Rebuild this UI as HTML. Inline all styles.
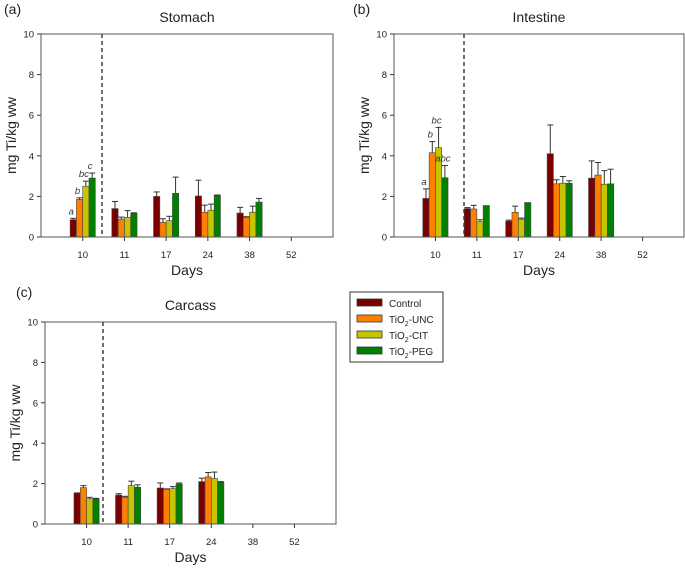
<!DOCTYPE html>
<html><head><meta charset="utf-8"><style>
body{margin:0;background:#fff;width:685px;height:566px;overflow:hidden}
svg{font-family:"Liberation Sans",sans-serif}
</style></head><body>
<svg id="c" width="685" height="566" xmlns="http://www.w3.org/2000/svg"></svg>
<script>
const days=["10","11","17","24","38","52"];
const yTicks=[0,2,4,6,8,10];
const seriesNames=["Control","TiO2-UNC","TiO2-CIT","TiO2-PEG"];
const colors=["#7a0000","#ff8000","#c5c500","#008000"];
const stomachVals=[[0.85,1.85,2.5,2.9],[1.4,0.88,0.97,1.17],[2.0,0.72,0.8,2.15],[2.02,1.22,1.32,2.05],[1.18,0.97,1.22,1.72]];
const stomachErr=[[0.07,0.08,0.25,0.25],[0.35,0.1,0.33,0.02],[0.22,0.18,0.22,0.8],[0.78,0.35,0.3,0.02],[0.28,0.03,0.3,0.18]];
const intestineVals=[[1.9,4.15,4.4,2.92],[1.4,1.38,0.75,1.55],[0.78,1.22,0.88,1.7],[4.1,2.62,2.65,2.65],[2.9,3.05,2.6,2.62]];
const intestineErr=[[0.47,0.55,1.0,0.6],[0.05,0.18,0.1,0],[0.05,0.3,0.05,0],[1.42,0.2,0.33,0.12],[0.85,0.62,0.67,0.72]];
const carcassVals=[[1.52,1.8,1.25,1.25],[1.43,1.32,1.9,1.82],[1.78,1.72,1.75,1.98],[2.1,2.33,2.25,2.07]];
const carcassErr=[[0.02,0.1,0.07,0.02],[0.07,0.05,0.22,0.12],[0.25,0.02,0.1,0.05],[0.17,0.22,0.32,0.03]];
const stomachLetters=["a","b","bc","c"];
const intestineLetters=["a","b","bc","abc"];
const NS="http://www.w3.org/2000/svg";
const svg=document.getElementById('c');
function mk(tag,attrs,parent,text){const e=document.createElementNS(NS,tag);for(const k in attrs)e.setAttribute(k,attrs[k]);if(text!==undefined)e.textContent=text;(parent||svg).appendChild(e);return e;}
function panel(p){
  const g=mk('g',{});
  
  
  const L=p.x0,R=p.x1,T=p.y0,B=p.y1;
  const y=v=>B-(v/10)*(B-T);
  const band=(R-L)/7;
  const xc=i=>L+band*(i+1);
  const bw=6.3;
  const t=mk('text',{x:(L+R)/2,y:T-12,'text-anchor':'middle','font-size':14,fill:'#222'},g,p.title);
  
  const lb=mk('text',{x:p.lx,y:p.ly,'font-size':14,fill:'#222'},g,p.label);
  
  yTicks.forEach(v=>{
    mk('line',{x1:L-4,x2:L,y1:y(v),y2:y(v),stroke:'#333'},g);
    const tt=mk('text',{x:L-7,y:y(v)+3.5,'text-anchor':'end','font-size':9.5,fill:'#222'},g,v);
    
  });
  days.forEach((d,i)=>{
    mk('line',{x1:xc(i),x2:xc(i),y1:B,y2:B+4,stroke:'#333'},g);
    const tt=mk('text',{x:xc(i),y:B+21,'text-anchor':'middle','font-size':9.5,fill:'#222'},g,d);
    
  });
  mk('line',{x1:p.dash,x2:p.dash,y1:T,y2:B,stroke:'#222','stroke-width':1.3,'stroke-dasharray':'4,3'},g);
  p.vals.forEach((grp,i)=>{
    grp.forEach((v,s)=>{
      const x=xc(i)-2*bw+s*bw;
      const r=mk('rect',{x:x,y:y(v),width:bw,height:B-y(v),fill:colors[s],stroke:'#444','stroke-width':0.6},g);
      
      
      const e=p.err[i][s];
      if(e>0){const cx=x+bw/2;
        mk('line',{x1:cx,x2:cx,y1:y(v),y2:y(v+e),stroke:'#333','stroke-width':1},g);
        mk('line',{x1:cx-3,x2:cx+3,y1:y(v+e),y2:y(v+e),stroke:'#333','stroke-width':1},g);}
      if(p.letters&&i===0){
        const lt=mk('text',{x:x+bw/2-2,y:y(v+e)-4,'text-anchor':'middle','font-size':9.5,'font-style':'italic',fill:'#333'},g,p.letters[s]);
        
      }
    });
  });
  mk('rect',{x:L,y:T,width:R-L,height:B-T,fill:'none',stroke:'#555','stroke-width':1},g);
  const xt=mk('text',{x:(L+R)/2,y:B+38,'text-anchor':'middle','font-size':14,fill:'#222'},g,'Days');
  
  const yt=mk('text',{x:0,y:0,'text-anchor':'middle','font-size':14,fill:'#222',transform:`translate(${L-25},${(T+B)/2}) rotate(-90)`},g,'mg Ti/kg ww');
  
}
panel({name:'stomach',title:'Stomach',label:'(a)',lx:4,ly:14,x0:41,x1:333,y0:34,y1:237,dash:102,vals:stomachVals,err:stomachErr,letters:stomachLetters});
panel({name:'intestine',title:'Intestine',label:'(b)',lx:353,ly:14,x0:394,x1:684,y0:34,y1:237,dash:464,vals:intestineVals,err:intestineErr,letters:intestineLetters});
panel({name:'carcass',title:'Carcass',label:'(c)',lx:16,ly:297,x0:45,x1:336,y0:322,y1:524,dash:103,vals:carcassVals,err:carcassErr,letters:null});
const lg=mk('g',{});


mk('rect',{x:350,y:292,width:93,height:70,fill:'#fff',stroke:'#333','stroke-width':1},lg);
const labels=[["Control",""],["TiO","-UNC"],["TiO","-CIT"],["TiO","-PEG"]];
labels.forEach((l,i)=>{
  const yy=303+i*16;
  mk('rect',{x:357,y:yy-4,width:25,height:7,fill:colors[i],stroke:'#333','stroke-width':0.8},lg);
  const t=mk('text',{x:389,y:yy+4,'font-size':10,fill:'#222'},lg);
  
  
  if(i===0){t.textContent='Control';}
  else{
    mk('tspan',{},t,'TiO');
    mk('tspan',{'font-size':7,dy:3},t,'2');
    mk('tspan',{dy:-3},t,l[1]);
  }
});
</script>
</body></html>
